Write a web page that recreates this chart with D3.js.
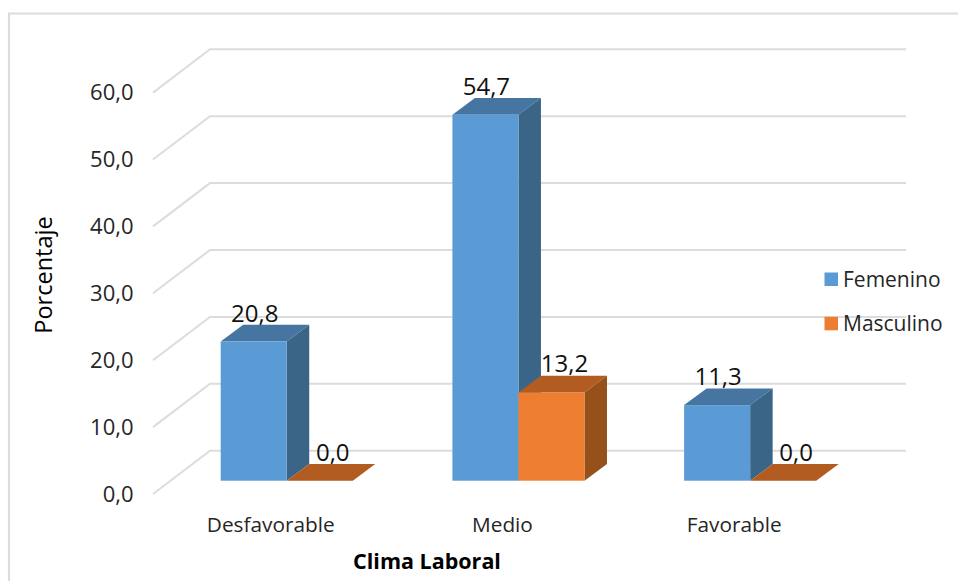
<!DOCTYPE html>
<html>
<head>
<meta charset="utf-8">
<script src="https://cdnjs.cloudflare.com/ajax/libs/d3/7.8.5/d3.min.js"></script>
<style>
  html, body { margin: 0; padding: 0; background: #fff; }
  svg { display: block; }
  text { font-family: "Open Sans", "Noto Sans", sans-serif; }
</style>
</head>
<body>
<svg id="chart" width="958" height="581"></svg>
<script>
const categories = ["Desfavorable", "Medio", "Favorable"];
const seriesNames = ["Femenino", "Masculino"];
const femenino = [20.8, 54.7, 11.3];
const masculino = [0.0, 13.2, 0.0];
const yTicks = [0, 10, 20, 30, 40, 50, 60];

const frontColors = ["#5b9bd5", "#ed7d31"];
const topColors = ["#4675a1", "#b35c22"];
const sideColors = ["#3a6587", "#955119"];
const gridColor = "#dcdcdc";
const inkColor = "#262626";

const svg = d3.select("#chart");
const fmt = v => d3.format(".1f")(v).replace(".", ",");

// Scale for the front plane of the bars; the floor and wall planes are offsets of it.
const y = d3.scaleLinear().domain([0, 60]).range([480.7, 79.3]);
const x0 = d3.scaleBand().domain(categories).range([174.5, 862.4]).paddingInner(0.43).paddingOuter(0.1994);
const x1 = d3.scaleBand().domain(seriesNames).range([0, x0.bandwidth()]);

const barDepth = { dx: 22.5, dy: 16.7 };
const wallLeft = 210, wallRight = 906, wallShiftY = 30;
const floorLeft = 153, floorShiftY = -13.3;

// Chart frame, open at the bottom and right where the page crops it.
svg.append("path")
  .attr("d", d3.line()([[9, 581], [9, 13.5], [958, 13.5]]))
  .attr("fill", "none").attr("stroke", gridColor).attr("stroke-width", 2.2);

// Gridlines running along the side wall and the back wall.
svg.append("g").selectAll("path").data(yTicks).join("path")
  .attr("d", t => d3.line()([
    [floorLeft, y(t) - floorShiftY],
    [wallLeft, y(t) - wallShiftY],
    [wallRight, y(t) - wallShiftY]
  ]))
  .attr("fill", "none").attr("stroke", gridColor).attr("stroke-width", 2);

// Value axis labels.
svg.append("g").selectAll("text").data(yTicks).join("text")
  .attr("x", 133.5).attr("y", t => y(t) - floorShiftY + 7.7)
  .attr("text-anchor", "end").attr("font-size", 22).attr("fill", inkColor)
  .text(fmt);

// One prism per value: top, side and front faces.
const bars = categories.flatMap((c, i) => [femenino[i], masculino[i]].map((v, s) => ({ c, v, s, name: seriesNames[s] })));
const prism = svg.append("g").selectAll("g").data(bars).join("g");

prism.append("path").attr("fill", d => topColors[d.s]).attr("d", d => {
  const l = x0(d.c) + x1(d.name), r = l + x1.bandwidth(), t = y(d.v);
  return d3.line()([[l, t], [r, t], [r + barDepth.dx, t - barDepth.dy], [l + barDepth.dx, t - barDepth.dy]]) + "Z";
});
prism.append("path").attr("fill", d => sideColors[d.s]).attr("d", d => {
  const r = x0(d.c) + x1(d.name) + x1.bandwidth();
  return d3.line()([[r, y(d.v)], [r + barDepth.dx, y(d.v) - barDepth.dy], [r + barDepth.dx, y(0) - barDepth.dy], [r, y(0)]]) + "Z";
});
prism.append("rect").attr("fill", d => frontColors[d.s])
  .attr("x", d => x0(d.c) + x1(d.name))
  .attr("y", d => y(d.v))
  .attr("width", x1.bandwidth())
  .attr("height", d => y(0) - y(d.v));

// Value labels sit on the top face of each prism.
const labelShift = [[34, -20], [46, -20]];
prism.append("text")
  .attr("x", d => x0(d.c) + x1(d.name) + labelShift[d.s][0])
  .attr("y", d => y(d.v) + labelShift[d.s][1])
  .attr("text-anchor", "middle").attr("font-size", 24).attr("fill", "#111")
  .text(d => fmt(d.v));

// Category labels.
svg.append("g").selectAll("text").data(categories).join("text")
  .attr("x", c => x0(c) + x0.bandwidth() / 2 - 16)
  .attr("y", 532)
  .attr("text-anchor", "middle").attr("font-size", 20.8).attr("fill", inkColor)
  .text(c => c);

// Axis titles.
svg.append("text").attr("x", 427).attr("y", 569)
  .attr("text-anchor", "middle").attr("font-size", 21.5).attr("font-weight", 700).attr("fill", "#000")
  .text("Clima Laboral");
svg.append("text").attr("transform", "translate(52,275) rotate(-90)")
  .attr("text-anchor", "middle").attr("font-size", 23.5).attr("fill", "#000")
  .text("Porcentaje");

// Legend.
const legend = svg.append("g").selectAll("g").data(seriesNames).join("g")
  .attr("transform", (d, i) => `translate(824.5,${272.5 + i * 44.3})`);
legend.append("rect").attr("width", 13.5).attr("height", 13.5).attr("fill", (d, i) => frontColors[i]);
legend.append("text").attr("x", 18.5).attr("y", 14).attr("font-size", 21).attr("fill", inkColor).text(d => d);
</script>
</body>
</html>
